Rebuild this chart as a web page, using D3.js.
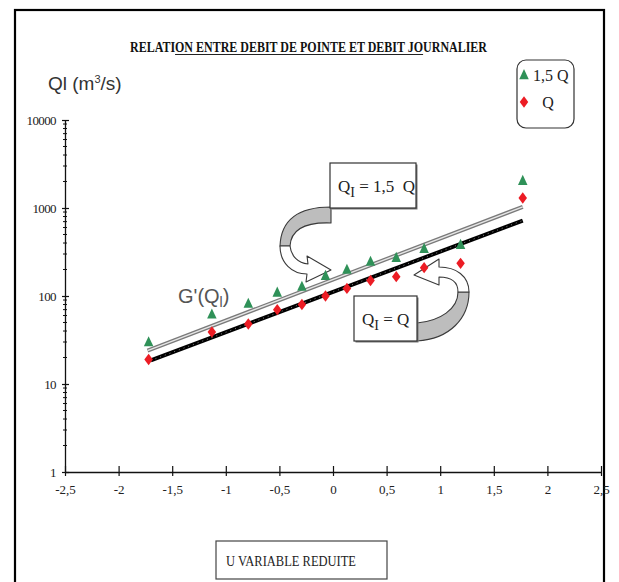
<!DOCTYPE html>
<html>
<head>
<meta charset="utf-8">
<script src="https://cdn.jsdelivr.net/npm/d3@7/dist/d3.min.js"></script>
<style>
body { margin: 0; background: #fff; }
svg { display: block; }
.serif { font-family: "Liberation Serif", "Times New Roman", serif; }
.sans { font-family: "Liberation Sans", Arial, sans-serif; }
</style>
</head>
<body>
<script>
var w = 619;
var h = 582;

//Data
var uValues = [-1.72, -1.13, -0.79, -0.52, -0.29, -0.07, 0.13, 0.35, 0.59, 0.85, 1.19, 1.77];
var qValues = [19, 39, 48, 70, 80, 100, 122, 150, 166, 210, 235, 1300];
var q15Values = [30, 62, 82, 110, 128, 170, 200, 246, 273, 345, 383, 2040];
//fitted lines, two ends each
var lineQU = [-1.70, 1.77];
var lineQV = [18.5, 720];
var line15U = [-1.73, 1.77];
var line15V = [24, 1030];
var xTicks = [-2.5, -2, -1.5, -1, -0.5, 0, 0.5, 1, 1.5, 2, 2.5];
var yTicks = [1, 10, 100, 1000, 10000];
var legendLabels = ["1,5 Q", "Q"];

var green = "#2f9158";
var red = "#ec1c24";

var svg = d3.select("body")
	.append("svg")
	.attr("width", w)
	.attr("height", h);

svg.append("rect").attr("width", w).attr("height", h).attr("fill", "#fff");

//outer frame
svg.append("rect")
	.attr("x", 15).attr("y", 10)
	.attr("width", 589).attr("height", 590)
	.attr("fill", "none")
	.attr("stroke", "#000")
	.attr("stroke-width", 2.2);

var x = d3.scaleLinear().domain([-2.5, 2.5]).range([65, 601]);
var y = d3.scaleLog().domain([1, 10000]).range([472, 120]);

//Title
var tStr = "RELATION ENTRE DEBIT DE POINTE ET DEBIT JOURNALIER";
var title = svg.append("text")
	.attr("class", "serif")
	.attr("x", 130).attr("y", 52)
	.attr("font-size", 14).attr("font-weight", "bold")
	.attr("textLength", 357).attr("lengthAdjust", "spacingAndGlyphs")
	.attr("fill", "#111")
	.text(tStr);
var tNode = title.node();
var u0 = tNode.getStartPositionOfChar(6).x;
var u1 = tNode.getEndPositionOfChar(tStr.indexOf("JOURNALIER") + 1).x;
svg.append("line")
	.attr("x1", u0).attr("x2", u1)
	.attr("y1", 54.5).attr("y2", 54.5)
	.attr("stroke", "#222").attr("stroke-width", 1);

//Y axis title
var yt = svg.append("text")
	.attr("class", "sans")
	.attr("x", 48).attr("y", 90)
	.attr("font-size", 19)
	.attr("fill", "#333");
yt.append("tspan").text("Ql (m");
yt.append("tspan").attr("font-size", 11).attr("dy", -7).text("3");
yt.append("tspan").attr("dy", 7).text("/s)");

//X axis
var xAxis = d3.axisBottom(x)
	.tickValues(xTicks)
	.tickSizeOuter(0)
	.tickFormat(function(d) { return String(d).replace(".", ","); });
var gx = svg.append("g")
	.attr("transform", "translate(0," + y(1) + ")")
	.call(xAxis);
gx.select(".domain").attr("stroke", "#111").attr("stroke-width", 1.3);
gx.selectAll(".tick line").attr("y1", -6).attr("y2", 4).attr("stroke", "#111").attr("stroke-width", 1.2);
gx.selectAll(".tick text")
	.attr("class", "serif")
	.attr("font-size", 13)
	.attr("fill", "#222")
	.attr("y", 13);

//Y axis
var yAxis = d3.axisLeft(y)
	.tickValues(yTicks)
	.tickSizeOuter(0)
	.tickFormat(d3.format("d"));
var gy = svg.append("g")
	.attr("transform", "translate(" + x(-2.5) + ",0)")
	.call(yAxis);
gy.select(".domain").attr("stroke", "#111").attr("stroke-width", 1.3);
gy.selectAll(".tick line").attr("x1", -3).attr("x2", 4).attr("stroke", "#111").attr("stroke-width", 1.2);
gy.selectAll(".tick text")
	.attr("class", "serif")
	.attr("font-size", 13)
	.attr("fill", "#222")
	.attr("letter-spacing", -0.6)
	.attr("x", -9);

//minor log ticks
var minor = y.ticks().filter(function(d) {
	return Math.abs(Math.log10(d) - Math.round(Math.log10(d))) > 1e-6;
});
gy.selectAll(".minor")
	.data(minor)
	.enter()
	.append("line")
	.attr("class", "minor")
	.attr("x1", -2).attr("x2", 2)
	.attr("y1", function(d) { return y(d); })
	.attr("y2", function(d) { return y(d); })
	.attr("stroke", "#111");

//Fitted lines
var line = d3.line()
	.x(function(d) { return x(d[0]); })
	.y(function(d) { return y(d[1]); });
var l15 = d3.zip(line15U, line15V);
var lQ = d3.zip(lineQU, lineQV);

svg.append("path").attr("d", line(l15))
	.attr("fill", "none").attr("stroke", "#7a7a7a").attr("stroke-width", 4);
svg.append("path").attr("d", line(l15))
	.attr("fill", "none").attr("stroke", "#e6e6e6").attr("stroke-width", 1.4);

svg.append("path").attr("d", line(lQ))
	.attr("fill", "none").attr("stroke", "#000").attr("stroke-width", 4);
svg.append("path").attr("d", line(lQ))
	.attr("fill", "none").attr("stroke", "#888").attr("stroke-width", 1)
	.attr("stroke-dasharray", "1 4");

//Curved arrows (annotations)
var arrows = svg.append("g").attr("stroke", "#3a3a3a").attr("stroke-width", 1.1).attr("stroke-linejoin", "round");
//arrow from Q_I = 1,5 Q box
arrows.append("path")
	.attr("d", "M331,207 C300,207 281,219 280,246 L290,246 C291,230 305,222 331,223 Z")
	.attr("fill", "#bdbdbd");
arrows.append("path")
	.attr("d", "M280,246 C280,263 292,274 307,274 L306,282 L331,270 L307,256 L308,264 C298,263 291,256 290,246 Z")
	.attr("fill", "#fff");
//arrow from Q_I = Q box
arrows.append("path")
	.attr("d", "M417,323 C440,321 458,309 458,292 L469,292 C469,318 450,339 417,341 Z")
	.attr("fill", "#bdbdbd");
arrows.append("path")
	.attr("d", "M458,292 C458,282 451,277 439,277 L439,285 L414,275 L439,259 L439,267 C456,267 469,276 469,292 Z")
	.attr("fill", "#fff");

//Marker shapes
var triType = {
	draw: function(ctx, size) {
		var s = Math.sqrt(size);
		ctx.moveTo(0, -0.62 * s);
		ctx.lineTo(0.5 * s, 0.45 * s);
		ctx.lineTo(-0.5 * s, 0.45 * s);
		ctx.closePath();
	}
};
var diaType = {
	draw: function(ctx, size) {
		var s = Math.sqrt(size);
		ctx.moveTo(0, -0.6 * s);
		ctx.lineTo(0.45 * s, 0);
		ctx.lineTo(0, 0.6 * s);
		ctx.lineTo(-0.45 * s, 0);
		ctx.closePath();
	}
};
var tri = d3.symbol().type(triType).size(90);
var dia = d3.symbol().type(diaType).size(90);

//Points
svg.selectAll(".p15")
	.data(d3.zip(uValues, q15Values))
	.enter()
	.append("path")
	.attr("class", "p15")
	.attr("d", tri)
	.attr("transform", function(d) { return "translate(" + x(d[0]) + "," + y(d[1]) + ")"; })
	.attr("fill", green);

svg.selectAll(".pq")
	.data(d3.zip(uValues, qValues))
	.enter()
	.append("path")
	.attr("class", "pq")
	.attr("d", dia)
	.attr("transform", function(d) { return "translate(" + x(d[0]) + "," + y(d[1]) + ")"; })
	.attr("fill", red);

//Callout boxes
function callout(bx, by, bw, bh, rest) {
	svg.append("rect")
		.attr("x", bx + 1.5).attr("y", by + 1.5)
		.attr("width", bw).attr("height", bh)
		.attr("fill", "#777");
	svg.append("rect")
		.attr("x", bx).attr("y", by)
		.attr("width", bw).attr("height", bh)
		.attr("fill", "#fff").attr("stroke", "#333").attr("stroke-width", 1.2);
	var t = svg.append("text")
		.attr("class", "serif")
		.attr("x", bx + 8).attr("y", by + 29)
		.attr("font-size", 17)
		.attr("fill", "#222")
		.style("white-space", "pre");
	t.append("tspan").text("Q");
	t.append("tspan").attr("font-size", 14).attr("dy", 5).text("I");
	t.append("tspan").attr("dy", -5).text(" " + rest);
}
callout(330, 163, 86, 45, "= 1,5  Q");
callout(354, 296, 63, 45, "= Q");

//G'(Q_I)
var g = svg.append("text")
	.attr("class", "sans")
	.attr("x", 178).attr("y", 303)
	.attr("font-size", 20)
	.attr("fill", "#555");
g.append("tspan").text("G'(Q");
g.append("tspan").attr("font-size", 14).attr("dy", 4).text("l");
g.append("tspan").attr("dy", -4).text(")");

//Legend
svg.append("rect")
	.attr("x", 517).attr("y", 60)
	.attr("width", 57).attr("height", 68)
	.attr("rx", 9)
	.attr("fill", "#fff").attr("stroke", "#333").attr("stroke-width", 1.2);
var legend = svg.selectAll(".leg")
	.data(legendLabels)
	.enter()
	.append("g")
	.attr("class", "leg")
	.attr("transform", function(d, i) { return "translate(524," + (75 + i * 27) + ")"; });
legend.append("path")
	.attr("d", function(d, i) { return i == 0 ? tri() : dia(); })
	.attr("fill", function(d, i) { return i == 0 ? green : red; });
legend.append("text")
	.attr("class", "serif")
	.attr("x", function(d, i) { return i == 0 ? 9 : 24; })
	.attr("y", 6)
	.attr("font-size", 16)
	.attr("fill", "#222")
	.attr("text-anchor", function(d, i) { return i == 0 ? "start" : "middle"; })
	.text(function(d) { return d; });

//X axis title box
svg.append("rect")
	.attr("x", 216).attr("y", 541)
	.attr("width", 171).attr("height", 38)
	.attr("fill", "#fff").attr("stroke", "#444").attr("stroke-width", 1.2);
svg.append("text")
	.attr("class", "serif")
	.attr("x", 226).attr("y", 566)
	.attr("font-size", 15)
	.attr("textLength", 130).attr("lengthAdjust", "spacingAndGlyphs")
	.attr("fill", "#222")
	.text("U VARIABLE REDUITE");
</script>
</body>
</html>
